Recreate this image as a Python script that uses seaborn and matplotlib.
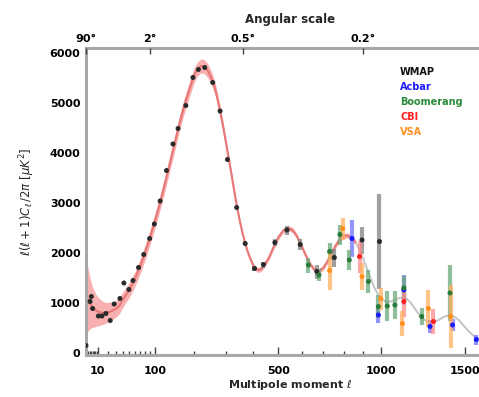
import numpy as np
import pandas as pd
import matplotlib
matplotlib.use("Agg")
import matplotlib.pyplot as plt
import seaborn as sns
from matplotlib.ticker import FixedLocator, MultipleLocator

# ---------------- data ----------------
# best-fit model (red part, WMAP range)
model_l = [2, 3, 4, 5, 6, 8, 10, 13, 16, 20,
           25, 30, 35, 40,
           50, 60, 70, 80, 90, 100,
           110, 120, 130, 140, 150, 160, 170, 180, 190, 200,
           210, 220, 230, 240, 250, 260, 270, 280, 290, 300,
           310, 320, 330, 340, 350, 360, 370, 380, 390, 400, 410, 420, 430, 440,
           460, 480, 500, 520, 540, 560, 580, 600, 620, 640, 660, 680, 700, 720,
           740, 760, 780, 800, 820, 840, 860]
model_d = [1150, 1060, 1000, 950, 910, 860, 830, 810, 800, 810,
           840, 880, 940, 1060,
           1250, 1470, 1730, 2020, 2320, 2630,
           2950, 3280, 3620, 3950, 4280, 4600, 4880, 5120, 5340, 5550,
           5680, 5740, 5730, 5660, 5540, 5380, 5150, 4870, 4560, 4230,
           3890, 3560, 3220, 2900, 2620, 2380, 2170, 2000, 1860, 1740, 1680, 1660, 1680, 1740,
           1900, 2120, 2320, 2450, 2500, 2460, 2330, 2140, 1940, 1770, 1660, 1640, 1700, 1830,
           1990, 2150, 2270, 2340, 2350, 2310, 2220]
model_err = [780, 620, 520, 450, 400, 330, 290, 250, 220, 200,
             180, 165, 160, 155,
             150, 150, 150, 150, 150, 150,
             150, 150, 150, 150, 150, 150, 150, 150, 150, 150,
             140, 140, 140, 140, 130, 130, 120, 110, 100, 90,
             80, 80, 70, 60, 60, 50, 50, 50, 50, 50, 50, 50, 50, 50,
             50, 50, 50, 50, 50, 50, 50, 50, 50, 50, 50, 50, 50, 50,
             50, 50, 50, 50, 50, 50, 50]
# model extension (grey part)
ext_l = [860, 880, 900, 920, 940, 960, 980, 1000, 1020, 1040, 1060, 1080, 1100, 1120,
         1140, 1160, 1180, 1200, 1220, 1240, 1260, 1280, 1300, 1320, 1340, 1360, 1380,
         1400, 1420, 1440, 1460, 1480, 1500, 1520, 1540, 1560, 1580, 1600, 1650, 1700]
ext_d = [2220, 2080, 1900, 1700, 1500, 1320, 1170, 1080, 1030, 1020, 1040, 1070, 1100, 1110,
         1090, 1030, 940, 840, 750, 680, 640, 620, 620, 640, 670, 710, 740,
         750, 740, 710, 660, 590, 520, 450, 390, 340, 300, 270, 220, 190]

wmap_l = [2, 4.2, 5.0, 5.9, 10.5, 13.8, 18, 23, 28, 36,
          42, 50, 57, 67, 77, 89, 99, 112, 127, 143,
          156, 177, 197, 213, 232, 257, 281, 306, 338, 369,
          404, 439, 485, 536, 594, 670, 754, 895, 989]
wmap_d = [150, 1030, 1130, 890, 740, 740, 790, 650, 980, 1090,
          1400, 1270, 1450, 1710, 1970, 2290, 2580, 3040, 3650, 4180,
          4490, 4950, 5510, 5670, 5710, 5410, 4840, 3870, 2910, 2190,
          1690, 1770, 2210, 2460, 2170, 1630, 1910, 2260, 2230]
wmap_err = [0, 0, 0, 0, 0, 0, 0, 0, 0, 0,
            0, 0, 0, 0, 0, 0, 0, 0, 0, 0,
            0, 0, 0, 0, 0, 0, 0, 0, 0, 0,
            50, 60, 70, 90, 110, 140, 180, 270, 950]

acbar_l = [843, 983, 1126, 1281, 1421, 1575]
acbar_d = [2290, 760, 1260, 530, 560, 270]
acbar_err = [370, 150, 300, 130, 120, 100]

boom_l = [631, 680, 731, 782, 829, 929, 983, 1032, 1075, 1126, 1231, 1405]
boom_d = [1760, 1560, 2030, 2370, 1860, 1430, 930, 940, 960, 1300, 730, 1200]
boom_err = [150, 120, 170, 200, 200, 230, 230, 300, 280, 250, 170, 560]

cbi_l = [882, 1126, 1302]
cbi_d = [1930, 1030, 630]
cbi_err = [320, 300, 250]

vsa_l = [731, 796, 895, 996, 1118, 1271, 1409]
vsa_d = [1650, 2490, 1530, 1090, 590, 890, 730]
vsa_err = [380, 220, 270, 220, 250, 370, 630]

experiments = ["WMAP", "Acbar", "Boomerang", "CBI", "VSA"]
point_colors = {"WMAP": "#2a2a2a", "Acbar": "#1a1aff", "Boomerang": "#2a7a3a",
                "CBI": "#ff2020", "VSA": "#ff9020"}
bar_colors = {"WMAP": "#808080", "Acbar": "#7070ff", "Boomerang": "#6aa878",
              "CBI": "#ff8c8c", "VSA": "#ffb060"}
text_colors = {"WMAP": "#111111", "Acbar": "#1a1aff", "Boomerang": "#2a8a3a",
               "CBI": "#ff2020", "VSA": "#ff9020"}

top_tick_l = [2, 90, 360, 900]
top_tick_labels = ["90°", "2°", "0.5°", "0.2°"]
bottom_ticks = [10, 100, 500, 1000, 1500]
bottom_minor = [2, 3, 4, 5, 6, 7, 8, 9, 20, 30, 40, 50, 60, 70, 80, 90,
                200, 300, 400, 600, 700, 800, 900]
y_ticks = [0, 1000, 2000, 3000, 4000, 5000, 6000]

# ---------------- build tables ----------------
rows = []
for name, ls, ds, es in [("WMAP", wmap_l, wmap_d, wmap_err),
                         ("Acbar", acbar_l, acbar_d, acbar_err),
                         ("Boomerang", boom_l, boom_d, boom_err),
                         ("CBI", cbi_l, cbi_d, cbi_err),
                         ("VSA", vsa_l, vsa_d, vsa_err)]:
    for l, d, e in zip(ls, ds, es):
        rows.append({"l": l, "D": d, "err": e, "exp": name})
df = pd.DataFrame(rows)
model = pd.DataFrame({"l": model_l, "D": model_d, "err": model_err})
ext = pd.DataFrame({"l": ext_l, "D": ext_d})

# ---------------- style ----------------
sns.set_theme(style="white")
plt.rcParams["font.family"] = ["DejaVu Sans"]
plt.rcParams["mathtext.fontset"] = "dejavusans"

fwd = lambda x: np.sign(x) * np.abs(x) ** 0.6
inv = lambda y: np.sign(y) * np.abs(y) ** (1 / 0.6)

fig = plt.figure(figsize=(4.79, 3.97), dpi=100)
ax = fig.add_axes([86 / 479, 42 / 397, (495 - 86) / 479, (355 - 48) / 397])
ax.set_xscale("function", functions=(fwd, inv))

# model band + line
ax.fill_between(model["l"], model["D"] - model["err"], model["D"] + model["err"],
                color="#f9b0b0", linewidth=0, zorder=1)
sns.lineplot(data=ext, x="l", y="D", ax=ax, color="#c4c4c4", linewidth=1.4,
             sort=False, zorder=2)
sns.lineplot(data=model, x="l", y="D", ax=ax, color="#e87878", linewidth=1.5,
             sort=False, zorder=2)

# error bars
for name in experiments:
    sub = df[(df["exp"] == name) & (df["err"] > 0)]
    ax.vlines(sub["l"], sub["D"] - sub["err"], sub["D"] + sub["err"],
              colors=bar_colors[name], linewidth=3.0, alpha=0.75, zorder=3)

sns.scatterplot(data=df, x="l", y="D", hue="exp", palette=point_colors, ax=ax,
                s=13, linewidth=0, legend=False, zorder=5)

ax.set_xlim(2, 1700)
ax.set_ylim(-40, 6100)

ax.xaxis.set_major_locator(FixedLocator(bottom_ticks))
ax.set_xticklabels([str(t) for t in bottom_ticks])
ax.xaxis.set_minor_locator(FixedLocator(bottom_minor))
ax.yaxis.set_major_locator(FixedLocator(y_ticks))
ax.set_yticklabels([str(t) for t in y_ticks])
ax.yaxis.set_minor_locator(MultipleLocator(100))

ax.tick_params(axis="both", which="both", direction="in", colors="#444444",
               labelcolor="black", labelsize=8, top=False, right=False, width=1)
ax.tick_params(axis="x", which="major", length=6, pad=8)
ax.tick_params(axis="x", which="minor", length=3)
ax.tick_params(axis="y", which="major", length=5, pad=4)
ax.tick_params(axis="y", which="minor", length=2.5)
for lab in ax.get_xticklabels() + ax.get_yticklabels():
    lab.set_fontweight("bold")

ax.set_xlabel(r"Multipole moment $\ell$", fontsize=8, fontweight="bold", labelpad=1)
ax.set_ylabel(r"$\ell(\ell+1)C_\ell\,/2\pi\ [\mu K^2]$", fontsize=8.5, labelpad=9)

for s in ["left", "bottom", "top"]:
    ax.spines[s].set_color("#a8a8a8")
    ax.spines[s].set_linewidth(2.2)
ax.spines["right"].set_visible(False)

# top axis: angular scale
ax2 = ax.twiny()
ax2.set_xscale("function", functions=(fwd, inv))
ax2.set_xlim(2, 1700)
ax2.xaxis.set_major_locator(FixedLocator(top_tick_l))
ax2.set_xticklabels(top_tick_labels)
ax2.xaxis.set_minor_locator(FixedLocator([]))
ax2.tick_params(axis="x", which="major", direction="in", length=4, width=1,
                colors="#444444", labelcolor="black", labelsize=8, pad=3)
for lab in ax2.get_xticklabels():
    lab.set_fontweight("bold")
ax2.set_xlabel("Angular scale", fontsize=8.5, fontweight="bold", labelpad=8)
for s in ax2.spines.values():
    s.set_visible(False)

# text legend
for i, name in enumerate(experiments):
    ax.text(0.768, 0.922 - i * 0.049, name, transform=ax.transAxes,
            color=text_colors[name], fontsize=7, fontweight="bold",
            ha="left", va="center")

fig.savefig("out.png", dpi=100)
